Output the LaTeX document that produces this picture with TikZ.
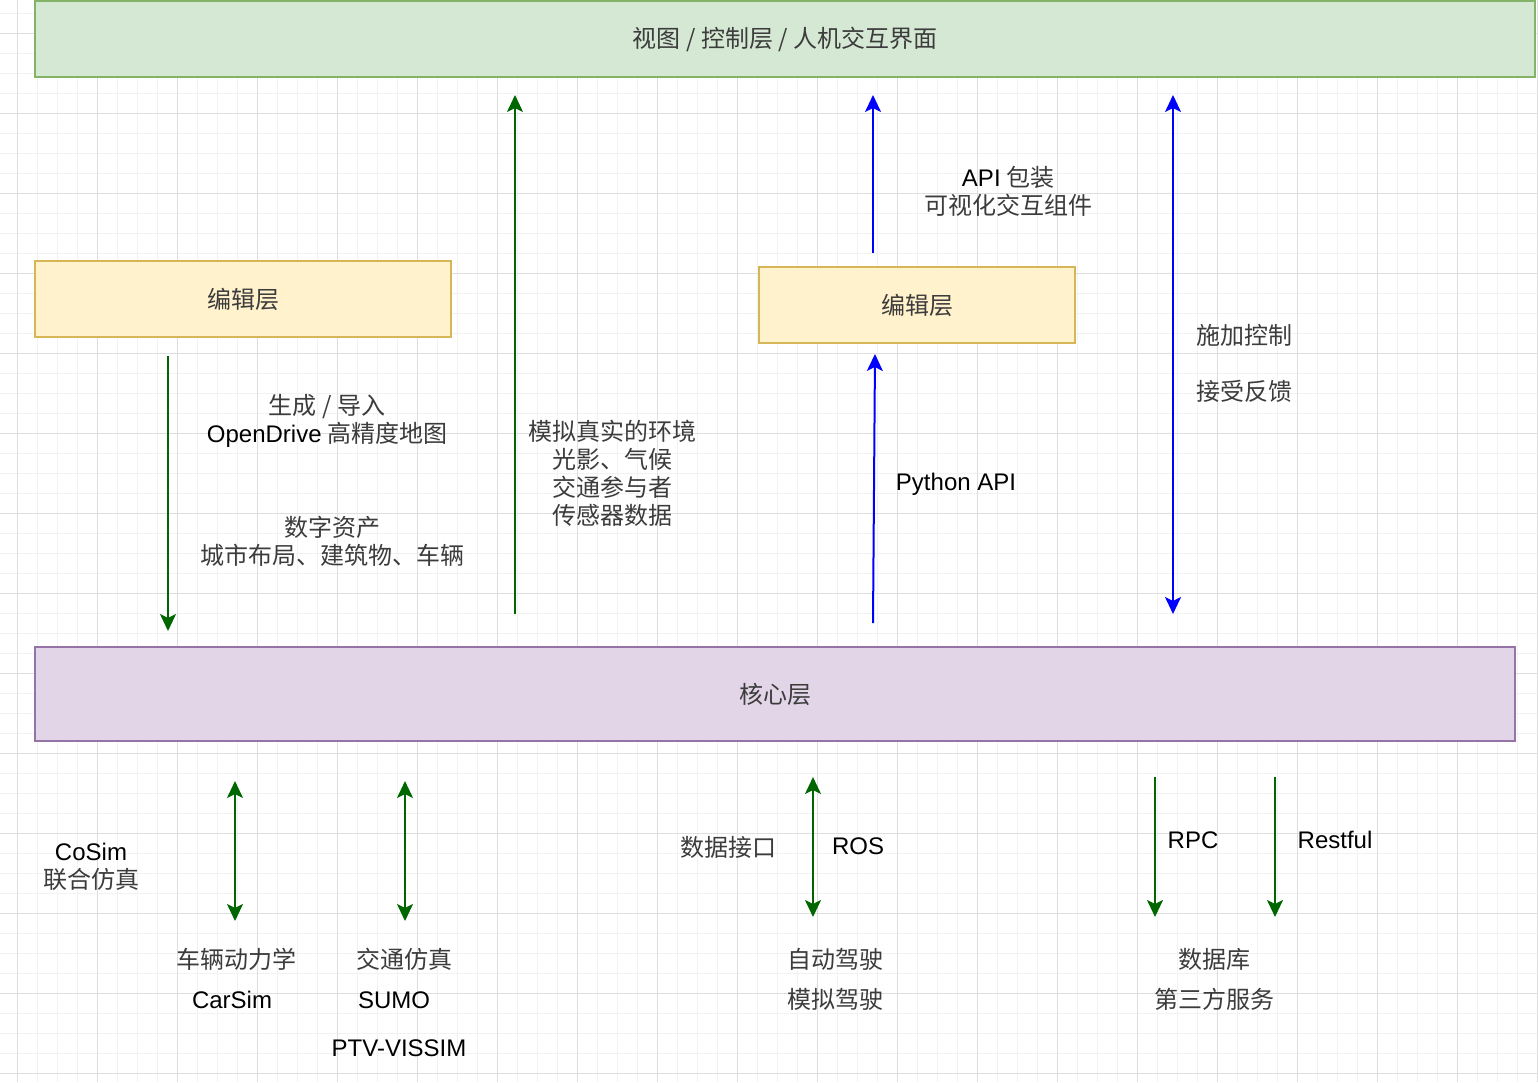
\documentclass[tikz,border=0pt]{standalone}
\usepackage{fontspec}
\setmainfont{Noto Sans CJK SC}
\newfontfamily\lat{Liberation Sans}
\usetikzlibrary{arrows.meta}
\definecolor{viewfill}{HTML}{D5E8D4}
\definecolor{viewdraw}{HTML}{82B366}
\definecolor{editfill}{HTML}{FFF2CC}
\definecolor{editdraw}{HTML}{D6B656}
\definecolor{corefill}{HTML}{E1D5E7}
\definecolor{coredraw}{HTML}{9673A6}
\definecolor{arrgreen}{HTML}{006600}
\definecolor{arrblue}{HTML}{0000FF}
\definecolor{cjktext}{HTML}{3C3C3C}
\definecolor{minorgrid}{HTML}{F2F2F2}
\definecolor{majorgrid}{HTML}{DEDEDE}
\newcommand\latin[1]{{\lat\color{black}#1}}
\tikzset{
  layerbox/.style={draw, line width=2pt, inner sep=0pt, text=cjktext},
  lbl/.style={inner sep=0pt, text=cjktext, align=center},
  tip/.tip={Stealth[length=17pt,width=16pt,inset=4pt]},
  greenarr/.style={draw=arrgreen, line width=2pt, -tip, arrgreen},
  bluearr/.style={draw=arrblue, line width=2pt, -tip, arrblue},
  greenboth/.style={draw=arrgreen, line width=2pt, tip-tip, arrgreen},
  blueboth/.style={draw=arrblue, line width=2pt, tip-tip, arrblue},
}
\begin{document}
\begin{tikzpicture}[x=1pt,y=-1pt,font=\fontsize{24}{28}\selectfont]
\useasboundingbox (0,0) rectangle (1538,1082);
\fill[white] (0,0) rectangle (1538,1082);
% grid
\foreach \x in {-3,17,...,1537} \draw[minorgrid, line width=1pt] (\x,0) -- (\x,1082);
\foreach \y in {13,33,...,1073} \draw[minorgrid, line width=1pt] (0,\y) -- (1538,\y);
\foreach \x in {17,97,...,1537} \draw[majorgrid, line width=1pt] (\x,0) -- (\x,1082);
\foreach \y in {33,113,...,1073} \draw[majorgrid, line width=1pt] (0,\y) -- (1538,\y);

% layers
\node[layerbox, fill=viewfill, draw=viewdraw, minimum width=1500pt, minimum height=76pt] (view) at (785,39) {视图 / 控制层 / 人机交互界面};
\node[layerbox, fill=editfill, draw=editdraw, minimum width=416pt, minimum height=76pt] (editL) at (243,299) {编辑层};
\node[layerbox, fill=editfill, draw=editdraw, minimum width=316pt, minimum height=76pt] (editR) at (917,305) {编辑层};
\node[layerbox, fill=corefill, draw=coredraw, minimum width=1480pt, minimum height=94pt] (core) at (775,694) {核心层};

% arrow end points
\coordinate (a1s) at (168,356); \coordinate (a1e) at (168,631);
\coordinate (a2s) at (515,614); \coordinate (a2e) at (515,95);
\coordinate (a3s) at (873,253); \coordinate (a3e) at (873,95);
\coordinate (a4s) at (873,623); \coordinate (a4e) at (875,354);
\coordinate (a5s) at (1173,95); \coordinate (a5e) at (1173,614);
\coordinate (b1s) at (235,781); \coordinate (b1e) at (235,921);
\coordinate (b2s) at (405,781); \coordinate (b2e) at (405,921);
\coordinate (b3s) at (813,777); \coordinate (b3e) at (813,917);
\coordinate (b4s) at (1155,777); \coordinate (b4e) at (1155,917);
\coordinate (b5s) at (1275,777); \coordinate (b5e) at (1275,917);

\draw[greenarr] (a1s) -- (a1e);
\draw[greenarr] (a2s) -- (a2e);
\draw[bluearr] (a3s) -- (a3e);
\draw[bluearr] (a4s) -- (a4e);
\draw[blueboth] (a5s) -- (a5e);
\draw[greenboth] (b1s) -- (b1e);
\draw[greenboth] (b2s) -- (b2e);
\draw[greenboth] (b3s) -- (b3e);
\draw[greenarr] (b4s) -- (b4e);
\draw[greenarr] (b5s) -- (b5e);

% labels
\node[lbl] (t1) at (327,421) {生成 / 导入\\\latin{OpenDrive} 高精度地图};
\node[lbl] (t2) at (332,541) {数字资产\\城市布局、建筑物、车辆};
\node[lbl] (t3) at (612,473) {模拟真实的环境\\光影、气候\\交通参与者\\传感器数据};
\node[lbl] (t4) at (1008,191) {\latin{API} 包装\\可视化交互组件};
\node[lbl] (t5) at (956,484) {\latin{Python API}};
\node[lbl] (t6) at (1244,335) {施加控制};
\node[lbl] (t7) at (1244,391) {接受反馈};
\node[lbl] (t8) at (91,867) {\latin{CoSim}\\联合仿真};
\node[lbl] (t9) at (236,959) {车辆动力学};
\node[lbl] (t10) at (232,1000) {\latin{CarSim}};
\node[lbl] (t11) at (404,959) {交通仿真};
\node[lbl] (t12) at (394,1000) {\latin{SUMO}};
\node[lbl] (t13) at (399,1048) {\latin{PTV-VISSIM}};
\node[lbl] (t14) at (728,847) {数据接口};
\node[lbl] (t15) at (858,846) {\latin{ROS}};
\node[lbl] (t16) at (1193,840) {\latin{RPC}};
\node[lbl] (t17) at (1335,840) {\latin{Restful}};
\node[lbl] (t18) at (835,959) {自动驾驶};
\node[lbl] (t19) at (835,999) {模拟驾驶};
\node[lbl] (t20) at (1214,959) {数据库};
\node[lbl] (t21) at (1214,999) {第三方服务};
\end{tikzpicture}
\end{document}
